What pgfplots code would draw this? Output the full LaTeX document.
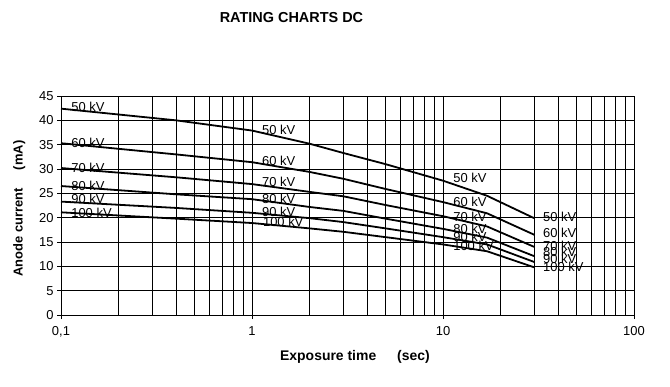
\documentclass[border=0pt]{standalone}
\usepackage{pgfplots}
\pgfplotsset{compat=1.18}
\usepackage{fontspec}
\setmainfont{Liberation Sans}
\tikzset{curve/.style={black, line width=1.8bp, mark=none}}
\begin{document}
\begin{tikzpicture}[x=1bp,y=1bp]
\useasboundingbox (0,0) rectangle (670,386);
\begin{axis}[
  scale only axis,
  width=573bp, height=219bp,
  at={(61bp,71bp)}, anchor=south west,
  xmode=log, log basis x=10,
  xmin=0.1, xmax=100, ymin=0, ymax=45,
  xtick={0.1,1,10,100}, xticklabels={0{,}1,1,10,100},
  minor xtick={0.2,0.3,0.4,0.5,0.6,0.7,0.8,0.9,2,3,4,5,6,7,8,9,20,30,40,50,60,70,80,90},
  ytick={0,5,...,45},
  grid=both,
  major grid style={black, line width=0.7bp},
  minor grid style={black, line width=0.7bp},
  axis line style={black, line width=0.8bp},
  tick align=outside, major tick length=4bp, minor tick length=0pt,
  xtick pos=bottom, ytick pos=left,
  tick style={black, line width=0.7bp},
  /pgf/number format/assume math mode=true,
  tick label style={font=\fontsize{13}{15}\selectfont},
  xticklabel style={yshift=-4bp},
  xlabel={\textbf{Exposure time}\hspace{1.5em}\textbf{(sec)}},
  ylabel={\textbf{Anode current}\hspace{1.4em}\textbf{(mA)}},
  label style={font=\fontsize{13}{15}\selectfont},
  xlabel style={at={(axis description cs:0.513,-0.192)}, anchor=center, font=\fontsize{14}{16}\selectfont},
  ylabel style={at={(axis description cs:-0.073,0.486)}, anchor=center},
  clip=false,
]
\addplot[curve] coordinates {(0.1,42.4)(0.4,40.0)(1,37.9)(2,35.2)(3,33.3)(5,31.0)(10,27.6)(17,24.5)(30,19.9)};
\addplot[curve] coordinates {(0.1,35.3)(0.4,33.0)(1,31.4)(2,29.4)(3,28.0)(5,25.9)(10,23.2)(17,20.9)(30,16.5)};
\addplot[curve] coordinates {(0.1,30.2)(0.4,28.3)(1,26.9)(2,25.3)(3,24.4)(5,22.6)(10,20.3)(17,18.2)(30,14.0)};
\addplot[curve] coordinates {(0.1,26.5)(0.4,24.8)(1,23.8)(2,22.2)(3,21.4)(5,19.8)(10,17.7)(17,15.9)(30,12.1)};
\addplot[curve] coordinates {(0.1,23.3)(0.4,22.0)(1,21.0)(2,19.9)(3,19.1)(5,17.8)(10,16.0)(17,14.5)(30,10.9)};
\addplot[curve] coordinates {(0.1,21.1)(0.4,19.8)(1,18.9)(2,17.8)(3,17.1)(5,16.0)(10,14.5)(17,13.1)(30,9.8)};
\begin{scope}[every node/.style={anchor=west, inner sep=0pt, font=\fontsize{13}{15}\selectfont}]
\node at (axis cs:0.113,42.7) {50 kV};
\node at (axis cs:0.113,35.4) {60 kV};
\node at (axis cs:0.113,30.3) {70 kV};
\node at (axis cs:0.113,26.6) {80 kV};
\node at (axis cs:0.113,23.8) {90 kV};
\node at (axis cs:0.113,21.0) {100 kV};
\node at (axis cs:1.127,38.0) {50 kV};
\node at (axis cs:1.127,31.7) {60 kV};
\node at (axis cs:1.127,27.4) {70 kV};
\node at (axis cs:1.127,23.8) {80 kV};
\node at (axis cs:1.127,21.2) {90 kV};
\node at (axis cs:1.14,19.2) {100 kV};
\node at (axis cs:11.3,28.1) {50 kV};
\node at (axis cs:11.3,23.3) {60 kV};
\node at (axis cs:11.3,20.1) {70 kV};
\node at (axis cs:11.3,17.7) {80 kV};
\node at (axis cs:11.3,16.1) {90 kV};
\node at (axis cs:11.3,14.2) {100 kV};
\node at (axis cs:33.4,20.1) {50 kV};
\node at (axis cs:33.4,16.9) {60 kV};
\node at (axis cs:33.4,14.2) {70 kV};
\node at (axis cs:33.4,13.0) {80 kV};
\node at (axis cs:33.4,11.6) {90 kV};
\node at (axis cs:33.4,9.8) {100 kV};
\end{scope}
\end{axis}
\node[font=\bfseries\fontsize{14.5}{16}\selectfont] at (291.5,368) {RATING CHARTS DC};
\end{tikzpicture}
\end{document}
